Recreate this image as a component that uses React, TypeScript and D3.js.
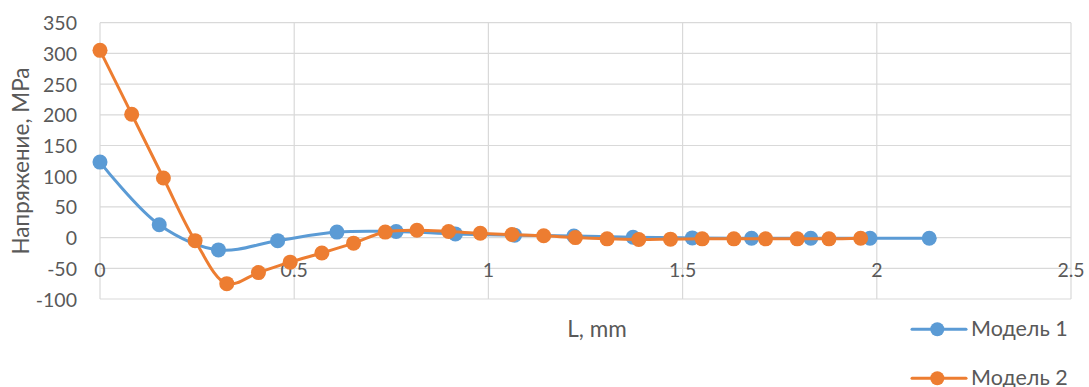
import React from 'react';
import * as d3 from 'd3';

const xTicks = [0, 0.5, 1, 1.5, 2, 2.5];
const yTicks = [-100, -50, 0, 50, 100, 150, 200, 250, 300, 350];

const model1X = [0, 0.1525, 0.305, 0.4575, 0.61, 0.7625, 0.915, 1.0675, 1.22, 1.3725, 1.525, 1.6775, 1.83, 1.9825, 2.135];
const model1Y = [123, 21, -20, -5, 9, 10, 6, 4, 2.5, 0.5, -0.5, -1, -1, -1, -1];

const model2X = [0, 0.0816, 0.1632, 0.2448, 0.3264, 0.408, 0.4896, 0.5712, 0.6528, 0.7344, 0.816, 0.8976, 0.9792, 1.0608, 1.1424, 1.224, 1.3056, 1.3872, 1.4688, 1.5504, 1.632, 1.7136, 1.7952, 1.8768, 1.9584];
const model2Y = [305, 201, 97, -5, -75, -57, -40, -25, -9, 9, 12, 10, 7, 5, 3, 0, -2, -3, -2.5, -2, -2, -2, -2, -2, -1];

const seriesNames = ['Модель 1', 'Модель 2'];
const colors = ['#5B9BD5', '#ED7D31'];

const W = 1089;
const H = 387;
const FONT = 'Lato, "Open Sans", sans-serif';
const TEXT = '#595959';

export default function App() {
  const x = d3.scaleLinear().domain([0, 2.5]).range([100, 1071]);
  const y = d3.scaleLinear().domain([-100, 350]).range([299, 22.7]);

  const series = [
    model1X.map((v, i) => [v, model1Y[i]] as [number, number]),
    model2X.map((v, i) => [v, model2Y[i]] as [number, number]),
  ];

  const line = d3
    .line<[number, number]>()
    .x((d) => x(d[0]))
    .y((d) => y(d[1]))
    .curve(d3.curveCatmullRom.alpha(0.5));

  return (
    <svg
      width={W}
      height={H}
      style={{ position: 'absolute', left: 0, top: 0, background: '#fff' }}
      fontFamily={FONT}
    >
      <rect x={0} y={0} width={W} height={H} fill="#fff" />
      {/* grid */}
      {yTicks.map((t) => (
        <line key={'gy' + t} x1={x(0)} x2={x(2.5)} y1={y(t)} y2={y(t)} stroke="#D9D9D9" strokeWidth={1.2} />
      ))}
      {xTicks.map((t) => (
        <line key={'gx' + t} x1={x(t)} x2={x(t)} y1={y(350)} y2={y(-100)} stroke="#D9D9D9" strokeWidth={1.2} />
      ))}
      {/* y tick labels */}
      {yTicks.map((t) => (
        <text key={'ty' + t} x={77} y={y(t) + 7.5} textAnchor="end" fontSize={19.5} fill={TEXT}>
          {t}
        </text>
      ))}
      {/* x tick labels */}
      {xTicks.map((t) => (
        <text key={'tx' + t} x={x(t)} y={y(0) + 39} textAnchor="middle" fontSize={19.5} fill={TEXT}>
          {t}
        </text>
      ))}
      {/* axis titles */}
      <text x={597} y={337} textAnchor="middle" fontSize={22.5} fill={TEXT}>
        L, mm
      </text>
      <text transform={`translate(29,161) rotate(-90)`} textAnchor="middle" fontSize={22.5} fill={TEXT}>
        Напряжение, МРа
      </text>
      {/* series */}
      {series.map((s, i) => (
        <g key={'s' + i}>
          <path d={line(s) || ''} fill="none" stroke={colors[i]} strokeWidth={3} strokeLinejoin="round" strokeLinecap="round" />
          {s.map((d, j) => (
            <circle key={j} cx={x(d[0])} cy={y(d[1])} r={7.5} fill={colors[i]} />
          ))}
        </g>
      ))}
      {/* legend */}
      {seriesNames.map((n, i) => {
        const ly = 329.3 + i * 49;
        return (
          <g key={'l' + i}>
            <line x1={912} x2={966} y1={ly} y2={ly} stroke={colors[i]} strokeWidth={3} strokeLinecap="round" />
            <circle cx={937.3} cy={ly} r={7} fill={colors[i]} />
            <text x={971} y={ly + 7} fontSize={21.5} fill={TEXT}>
              {n}
            </text>
          </g>
        );
      })}
    </svg>
  );
}
